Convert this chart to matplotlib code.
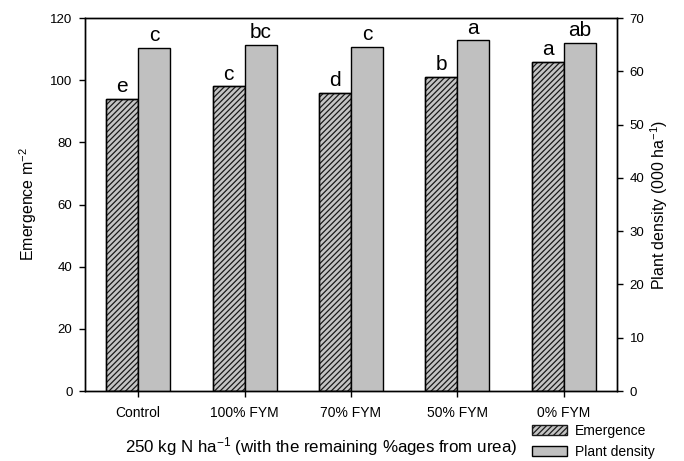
import matplotlib
import numpy as np

matplotlib.use("Agg")
import matplotlib.pyplot as plt
from matplotlib.patches import Patch

plt.rcParams["font.family"] = ["Liberation Sans", "DejaVu Sans"]
plt.rcParams["mathtext.fontset"] = "custom"
plt.rcParams["mathtext.rm"] = "Liberation Sans"
plt.rcParams["mathtext.it"] = "Liberation Sans:italic"
plt.rcParams["hatch.linewidth"] = 0.9

categories = ["Control", "100% FYM", "70% FYM", "50% FYM", "0% FYM"]
emergence = [94, 98, 96, 101, 106]
plant_density = [64.4, 64.9, 64.6, 65.8, 65.4]
emergence_letters = ["e", "c", "d", "b", "a"]
density_letters = ["c", "bc", "c", "a", "ab"]

fig = plt.figure(figsize=(6.84, 4.61), dpi=100)
ax = fig.add_axes([85 / 684, 1 - 391 / 461, 532 / 684, 373 / 461])
ax2 = ax.twinx()

x = np.arange(len(categories))
width = 0.3
hatch = "//////"

ax.bar(x - width / 2, emergence, width, facecolor="#c4c4c4", edgecolor="#1a1a1a",
       hatch=hatch, linewidth=1.0, zorder=2)
ax.bar(x - width / 2, emergence, width, facecolor="none", edgecolor="black",
       linewidth=1.0, zorder=3)
ax2.bar(x + width / 2, plant_density, width, facecolor="#c0c0c0", edgecolor="black",
        linewidth=1.0)

for xi, val, lab in zip(x, emergence, emergence_letters):
    ax.annotate(lab, (xi - width / 2, val), xytext=(0, 2), textcoords="offset points",
                ha="center", va="bottom", fontsize=15)
for xi, val, lab in zip(x, plant_density, density_letters):
    ax2.annotate(lab, (xi + width / 2, val), xytext=(0, 2), textcoords="offset points",
                 ha="center", va="bottom", fontsize=15)

ax.set_xlim(-0.5, len(categories) - 0.5)
ax.set_ylim(0, 120)
ax.set_yticks(np.arange(0, 121, 20))
ax2.set_ylim(0, 70)
ax2.set_yticks(np.arange(0, 71, 10))
ax.set_xticks(x)
ax.set_xticklabels(categories)

for a in (ax, ax2):
    a.tick_params(direction="out", length=4.5, width=1, labelsize=9.5, pad=4.5)
    for s in a.spines.values():
        s.set_linewidth(1.0)
ax.tick_params(axis="x", labelsize=10, pad=6.5)

ax.set_ylabel("Emergence m$^{-2}$", fontsize=11.5, labelpad=8)
ax2.set_ylabel("Plant density (000 ha$^{-1}$)", fontsize=11.5, labelpad=3)

fig.text(321 / 684, 1 - 447 / 461, "250 kg N ha$^{-1}$ (with the remaining %ages from urea)",
         ha="center", va="center", fontsize=12.2)

handles = [
    Patch(facecolor="#c4c4c4", edgecolor="#1a1a1a", hatch=hatch, linewidth=1.0),
    Patch(facecolor="#c0c0c0", edgecolor="black", linewidth=1.0),
]
fig.legend(handles, ["Emergence", "Plant density"], loc="upper left",
           bbox_to_anchor=(532 / 684, 1 - 424 / 461), frameon=False, fontsize=10,
           handlelength=2.5, handleheight=0.7, handletextpad=0.6, labelspacing=0.5,
           borderpad=0, borderaxespad=0)

fig.savefig("out.png", dpi=100)
